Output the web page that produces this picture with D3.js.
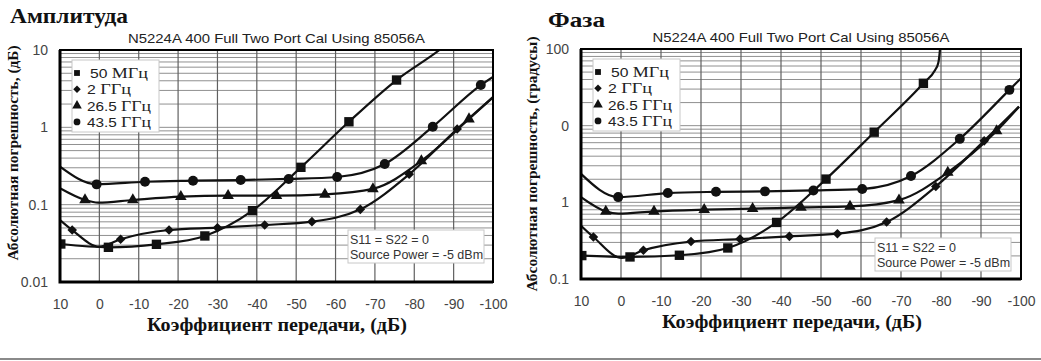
<!DOCTYPE html>
<html>
<head>
<meta charset="utf-8">
<script src="https://cdn.jsdelivr.net/npm/d3@7"></script>
<style>
body { margin: 0; background: #fff; }
svg { display: block; }
</style>
</head>
<body>
<svg id="chart" width="1041" height="361"></svg>
<script>
// ---- data ----
var xTicks = [10, 0, -10, -20, -30, -40, -50, -60, -70, -80, -90, -100];

var seriesNum = ["50", "2", "26.5", "43.5"];
var seriesUnit = ["МГц", "ГГц", "ГГц", "ГГц"];

var ampTickVals = [10, 1, 0.1, 0.01];
var ampTickLabels = ["10", "1", "0.1", "0.01"];
var phTickVals = [100, 10, 1, 0.1];
var phTickLabels = ["100", "0", "1", "0.1"];

// [x dB, error, marker?]
var ampSquare = [[9.8,0.031,1],[-2.3,0.0281,1],[-14.5,0.0307,1],[-26.8,0.0394,1],[-38.9,0.0836,1],
  [-51.2,0.304,1],[-63.4,1.18,1],[-75.5,4.09,1],[-86.4,10,0],[-90,14,0]];
var ampDiamond = [[10,0.0634,0],[6.9,0.047,1],[0,0.0286,0],[-5.4,0.0357,1],[-17.7,0.047,1],[-30,0.0504,1],
  [-42,0.0546,1],[-54,0.0603,1],[-66.3,0.087,1],[-78.7,0.247,1],[-90.9,0.95,1],[-100,2.45,0]];
var ampTriangle = [[10,0.163,0],[3.65,0.115,1],[0.3,0.106,0],[-8.5,0.115,1],[-20.7,0.127,1],[-32.7,0.131,1],
  [-45,0.131,1],[-57.3,0.136,1],[-69.5,0.16,1],[-81.8,0.367,1],[-93.9,1.28,1],[-100,2.45,0]];
var ampCircle = [[10,0.31,0],[0.7,0.183,1],[-11.6,0.198,1],[-23.8,0.204,1],[-35.9,0.208,1],[-48.1,0.215,1],
  [-60.4,0.228,1],[-72.5,0.336,1],[-84.7,1.02,1],[-96.9,3.52,1],[-100,4.5,0]];

var phSquare = [[9.8,0.202,1],[-2.25,0.194,1],[-14.6,0.204,1],[-26.7,0.254,1],[-38.9,0.547,1],
  [-51.25,2.01,1],[-63.3,8.22,1],[-75.6,35.7,1],[-78.5,53,0],[-79.3,65,0],[-79.75,100,0],[-79.9,130,0]];
var phDiamond = [[10,0.496,0],[6.9,0.353,1],[-0.2,0.188,0],[-5.6,0.237,1],[-17.5,0.308,1],[-29.75,0.332,1],
  [-42.1,0.36,1],[-54.1,0.39,1],[-66.4,0.553,1],[-78.7,1.61,1],[-90.8,6.34,1],[-99.5,17.7,0]];
var phTriangle = [[10,1.17,0],[3.8,0.762,1],[0.7,0.711,0],[-8.25,0.762,1],[-20.8,0.802,1],[-32.9,0.826,1],
  [-45,0.859,1],[-57.25,0.885,1],[-69.5,1.07,1],[-81.7,2.45,1],[-93.9,8.55,1],[-99.5,17.7,0]];
var phCircle = [[10,2.35,0],[0.7,1.17,1],[-11.7,1.32,1],[-23.75,1.37,1],[-36,1.39,1],[-48.1,1.43,1],
  [-60.3,1.49,1],[-72.5,2.2,1],[-84.7,6.73,1],[-97.1,29.3,1],[-100,41.5,0]];

// diamond = square turned 45 degrees
var symbols = [d3.symbolSquare, d3.symbolSquare, d3.symbolTriangle, d3.symbolCircle];
var symRot = [0, 45, 0, 0];
var symSize = [88, 46, 58, 78];
var legSize = [34, 28, 40, 36];
var legTextW = [58, 44, 64, 64];

var svg = d3.select("#chart");

function panel(p) {
  var x = d3.scaleLinear().domain([10, -100]).range([p.left, p.right]);
  var y = d3.scaleLog().domain(p.yDomain).range([p.bottom, p.top]);
  var g = svg.append("g");

  // grid
  g.append("g").selectAll("line")
    .data(y.ticks())
    .enter().append("line")
    .attr("x1", p.left).attr("x2", p.right)
    .attr("y1", function(d) { return y(d); })
    .attr("y2", function(d) { return y(d); })
    .attr("stroke", "#909090").attr("stroke-width", 1);
  g.append("g").selectAll("line")
    .data(xTicks)
    .enter().append("line")
    .attr("y1", p.top).attr("y2", p.bottom)
    .attr("x1", function(d) { return x(d); })
    .attr("x2", function(d) { return x(d); })
    .attr("stroke", "#606060").attr("stroke-width", 1.2);

  // tick labels
  var ax = g.append("g")
    .attr("transform", "translate(0," + (p.bottom + 17) + ")")
    .call(d3.axisBottom(x).tickValues(xTicks).tickSize(0).tickPadding(0)
      .tickFormat(function(d) { return d; }));
  var ay = g.append("g")
    .attr("transform", "translate(" + (p.left - 12) + ",0)")
    .call(d3.axisLeft(y).tickValues(p.tickVals).tickSize(0).tickPadding(0)
      .tickFormat(function(d, i) { return p.tickLabels[i]; }));
  [ax, ay].forEach(function(a) {
    a.select(".domain").remove();
    a.selectAll("text").attr("font-family", "Liberation Sans, Arial, sans-serif")
      .attr("font-size", 14).attr("fill", "#444");
  });

  // curves
  var clipId = "clip" + p.id;
  svg.append("clipPath").attr("id", clipId).append("rect")
    .attr("x", p.left).attr("y", p.top)
    .attr("width", p.right - p.left).attr("height", p.bottom - p.top);

  var line = d3.line()
    .x(function(d) { return x(d[0]); })
    .y(function(d) { return y(d[1]); })
    .curve(d3.curveMonotoneX);

  var cg = g.append("g").attr("clip-path", "url(#" + clipId + ")");
  p.series.forEach(function(s, i) {
    cg.append("path").attr("d", line(s))
      .attr("fill", "none").attr("stroke", "#111").attr("stroke-width", 2.2);
    cg.selectAll(".m" + i)
      .data(s.filter(function(d) { return d[2]; }))
      .enter().append("path")
      .attr("transform", function(d) {
        return "translate(" + x(d[0]) + "," + y(d[1]) + ") rotate(" + symRot[i] + ")";
      })
      .attr("d", d3.symbol().type(symbols[i]).size(symSize[i]))
      .attr("fill", "#111");
  });

  // frame
  g.append("rect")
    .attr("x", p.left).attr("y", p.top)
    .attr("width", p.right - p.left).attr("height", p.bottom - p.top)
    .attr("fill", "none").attr("stroke", "#000").attr("stroke-width", 2);
  g.append("path")
    .attr("d", "M" + p.left + "," + p.top + "V" + p.bottom + "H" + p.right)
    .attr("fill", "none").attr("stroke", "#000").attr("stroke-width", 3);

  // legend
  var lg = g.append("g");
  lg.append("rect")
    .attr("x", p.left + 12).attr("y", p.top + 10)
    .attr("width", 87).attr("height", 72)
    .attr("fill", "#fff").attr("stroke", "#c8c8c8");
  seriesNum.forEach(function(n, i) {
    var cy = p.top + 23 + i * 16.3;
    lg.append("path")
      .attr("transform", "translate(" + (p.left + 17) + "," + cy + ") rotate(" + symRot[i] + ")")
      .attr("d", d3.symbol().type(symbols[i]).size(legSize[i]))
      .attr("fill", "#111");
    var t = lg.append("text")
      .attr("x", p.left + (i === 0 ? 30 : 27)).attr("y", cy + 5)
      .attr("fill", "#222")
      .attr("textLength", legTextW[i]).attr("lengthAdjust", "spacingAndGlyphs");
    t.append("tspan").attr("font-family", "Liberation Sans, Arial, sans-serif")
      .attr("font-size", 13).text(n + " ");
    t.append("tspan").attr("font-family", "Liberation Serif, Times New Roman, serif")
      .attr("font-size", 15).text(seriesUnit[i]);
  });

  // note box
  var ng = g.append("g");
  ng.append("rect")
    .attr("x", p.noteX).attr("y", p.noteY)
    .attr("width", 136).attr("height", 33)
    .attr("fill", "#fff").attr("stroke", "#c8c8c8");
  ["S11 = S22 = 0", "Source Power = -5 dBm"].forEach(function(s, i) {
    ng.append("text")
      .attr("x", p.noteX + 2).attr("y", p.noteY + 14 + i * 15)
      .attr("font-family", "Liberation Sans, Arial, sans-serif")
      .attr("font-size", 12.5).attr("fill", "#333")
      .text(s);
  });

  // titles
  svg.append("text")
    .attr("x", (p.left + p.right) / 2).attr("y", p.top - 7)
    .attr("text-anchor", "middle")
    .attr("font-family", "Liberation Sans, Arial, sans-serif")
    .attr("font-size", 13).attr("fill", "#222")
    .attr("textLength", 297).attr("lengthAdjust", "spacingAndGlyphs")
    .text("N5224A 400 Full Two Port Cal Using 85056A");
  svg.append("text")
    .attr("x", p.headX).attr("y", p.headY)
    .attr("font-family", "Liberation Serif, Times New Roman, serif")
    .attr("font-weight", "bold").attr("font-size", 21).attr("fill", "#111")
    .attr("textLength", p.headW).attr("lengthAdjust", "spacingAndGlyphs")
    .text(p.heading);
  svg.append("text")
    .attr("x", p.xLabelX).attr("y", p.bottom + 49)
    .attr("text-anchor", "middle")
    .attr("font-family", "Liberation Serif, Times New Roman, serif")
    .attr("font-weight", "bold").attr("font-size", 18).attr("fill", "#111")
    .attr("textLength", 260).attr("lengthAdjust", "spacingAndGlyphs")
    .text("Коэффициент передачи, (дБ)");
  svg.append("text")
    .attr("transform", "translate(" + p.yLabelX + "," + p.yLabelY + ") rotate(-90)")
    .attr("text-anchor", "middle")
    .attr("font-family", "Liberation Serif, Times New Roman, serif")
    .attr("font-weight", "bold").attr("font-size", 15).attr("fill", "#111")
    .attr("textLength", p.yLabelW).attr("lengthAdjust", "spacingAndGlyphs")
    .text(p.yLabel);
}

panel({
  id: 0, left: 60, right: 493, top: 50, bottom: 282,
  yDomain: [0.01, 10], tickVals: ampTickVals, tickLabels: ampTickLabels,
  series: [ampSquare, ampDiamond, ampTriangle, ampCircle],
  noteX: 348, noteY: 230,
  heading: "Амплитуда", headX: 10, headY: 23, headW: 118,
  xLabelX: 277,
  yLabel: "Абсолютная погрешность, (дБ)", yLabelX: 18, yLabelY: 153, yLabelW: 215
});

panel({
  id: 1, left: 581, right: 1021, top: 49, bottom: 279,
  yDomain: [0.1, 100], tickVals: phTickVals, tickLabels: phTickLabels,
  series: [phSquare, phDiamond, phTriangle, phCircle],
  noteX: 875, noteY: 238,
  heading: "Фаза", headX: 548, headY: 27, headW: 57,
  xLabelX: 792,
  yLabel: "Абсолютная погрешность, (градусы)", yLabelX: 537, yLabelY: 164, yLabelW: 255
});

// bottom rule
svg.append("line")
  .attr("x1", 0).attr("x2", 1041).attr("y1", 359).attr("y2", 359)
  .attr("stroke", "#8a8a8a").attr("stroke-width", 2);
</script>
</body>
</html>
